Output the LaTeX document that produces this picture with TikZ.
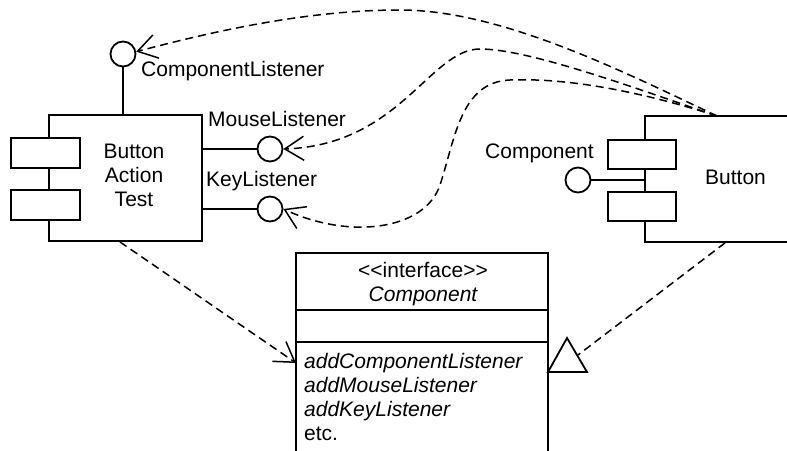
\documentclass[tikz,border=0pt]{standalone}
\usepackage{fontspec}
\setmainfont{Liberation Sans}
\usetikzlibrary{arrows.meta}

\tikzset{
  uml/.style={line width=1.8pt},
  comp/.style={draw, line width=1.8pt, rectangle, minimum width=153pt, minimum height=126pt, inner sep=0pt},
  port/.style={draw, fill=white, line width=1.8pt, minimum width=69pt, minimum height=30pt, inner sep=0pt},
  iface/.style={draw, circle, line width=1.8pt, minimum size=25pt, inner sep=0pt},
  part/.style={draw, line width=1.8pt, minimum width=252pt, inner sep=0pt, outer sep=0pt, anchor=north},
  lbl/.style={font=\fontsize{21}{24}\selectfont, inner sep=0pt},
  dep/.style={line width=1.5pt, dash pattern=on 8pt off 5pt, -{Straight Barb[length=19pt,width=24pt]}},
  real/.style={line width=1.5pt, dash pattern=on 8pt off 5pt},
}

\begin{document}
\begin{tikzpicture}[x=1pt, y=-1pt]
\useasboundingbox (0,0) rectangle (787,450);
\clip (0,0) rectangle (787,450);

% Button Action Test component
\node[comp] (bat) at (125.5,178) {};
\node[port] (batp1) at (45.5,153) {};
\node[port] (batp2) at (45.5,205) {};
\node[lbl, align=center, anchor=base] (battxt) at (134,206) {Button\\Action\\Test};

% Button component
\node[comp, minimum width=160pt] (btn) at (725,179) {};
\node[port, minimum width=68pt, minimum height=29pt] (btnp1) at (642,154.5) {};
\node[port, minimum width=68pt, minimum height=29pt] (btnp2) at (642,206.5) {};
\node[lbl, anchor=base west] (btntxt) at (705,184) {Button};

% provided interfaces
\node[iface] (cl) at (123,54) {};
\node[iface] (ml) at (270,149) {};
\node[iface] (kl) at (270,209) {};
\node[iface] (cp) at (578,180) {};
\draw[uml] (cl.south) -- (cl.south |- bat.north);
\draw[uml] (ml.west) -- (ml.west -| bat.east);
\draw[uml] (kl.west) -- (kl.west -| bat.east);
\draw[uml] (cp.east) -- (cp.east -| btn.west);

\node[lbl, anchor=base west] (cltxt) at (141,76) {ComponentListener};
\node[lbl, anchor=base west] (mltxt) at (208,126) {MouseListener};
\node[lbl, anchor=base west] (kltxt) at (206,186) {KeyListener};
\node[lbl, anchor=base west] (cptxt) at (485,158) {Component};

% interface class
\node[part, minimum height=57pt] (ihead) at (422,253) {};
\node[part, minimum height=32pt] (iattr) at (ihead.south) {};
\node[part, minimum height=120pt] (iops) at (iattr.south) {};
\node[lbl, align=center, anchor=base] (iname) at (423,301)
  {<\kern0pt<interface>\kern0pt>\\\itshape Component};
\node[lbl, align=left, anchor=base west] (iopstxt) at (304,440)
  {\itshape addComponentListener\\\itshape addMouseListener\\\itshape addKeyListener\\etc.};

% realization
\coordinate (tri-l) at (548,372);
\coordinate (tri-t) at (567,338);
\coordinate (tri-r) at (587,372);
\coordinate (tri-in) at (578,355);
\draw[uml] (tri-l) -- (tri-t) -- (tri-r) -- cycle;
\draw[real] (btn.south) -- (tri-in);

% dependencies
\coordinate (iops-in) at (296,363);
\coordinate (btn-out) at (717,116);
\draw[dep] (bat.-95) -- (iops-in);
\draw[dep] (btn-out) .. controls (620,70) and (500,10) .. (400,10)
  .. controls (300,10) and (200,35) .. (cl.10);
\draw[dep] (btn-out) .. controls (640,90) and (530,49) .. (480,49)
  .. controls (430,49) and (400,145) .. (ml.east);
\draw[dep] (btn-out) .. controls (630,88) and (560,78) .. (510,80)
  .. controls (460,82) and (455,140) .. (440,185)
  .. controls (425,230) and (350,240) .. (kl.east);

\end{tikzpicture}
\end{document}
